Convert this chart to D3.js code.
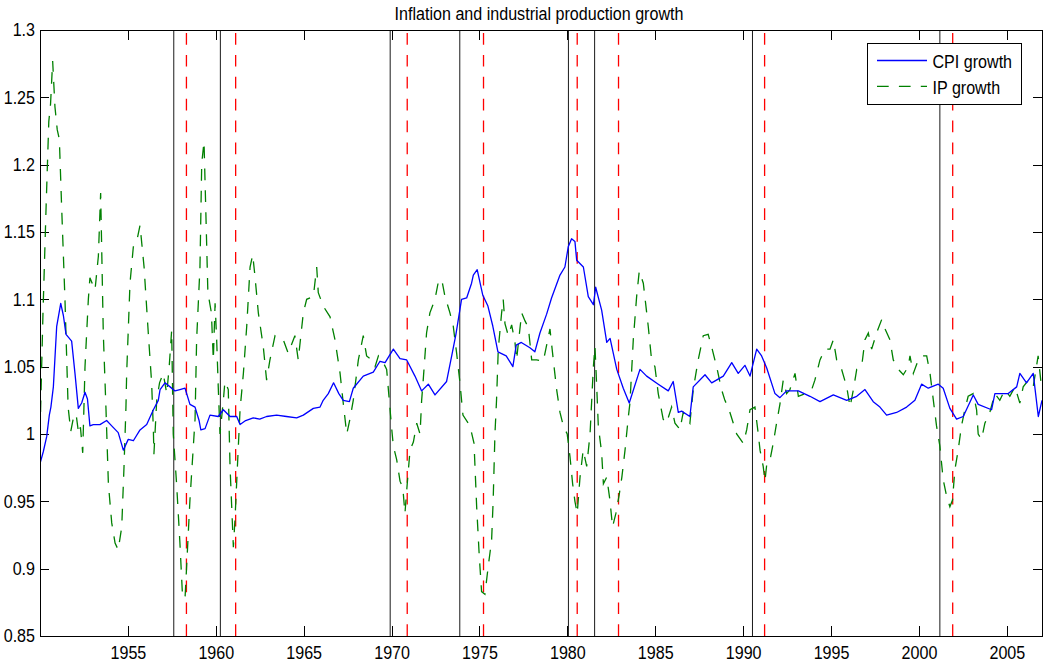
<script src='https://d3js.org/d3.v7.min.js'></script>
<style>
body {margin:0; background:#fff;}
text {font-family:'Liberation Sans',Arial,sans-serif; font-size:18.5px; fill:#000;}
.tick line {stroke:#000; shape-rendering:crispEdges;}
</style>
<body>
<svg id='chart'></svg>
<script>
// year-over-year ratios, [year, value]
var cpiGrowth=[[1950.0,0.978],[1950.19,0.987],[1950.38,0.998],[1950.53,1.014],[1950.62,1.020],[1950.76,1.035],[1950.95,1.080],[1951.18,1.097],
 [1951.33,1.088],[1951.48,1.074],[1951.80,1.069],[1951.99,1.045],[1952.18,1.019],[1952.37,1.023],[1952.56,1.031],[1952.70,1.026],[1952.84,1.006],
 [1953.03,1.007],[1953.41,1.007],[1953.79,1.010],[1954.08,1.006],[1954.45,1.001],[1954.74,0.988],[1955.02,0.996],[1955.31,0.995],[1955.69,1.003],
 [1956.07,1.007],[1956.45,1.018],[1956.73,1.025],[1956.83,1.033],[1957.11,1.038],[1957.40,1.035],[1957.68,1.032],[1957.96,1.033],[1958.25,1.034],
 [1958.53,1.022],[1958.82,1.020],[1959.05,1.010],[1959.15,1.003],[1959.39,1.004],[1959.67,1.014],[1960.14,1.013],[1960.43,1.018],[1960.81,1.013],
 [1961.19,1.013],[1961.38,1.007],[1961.70,1.010],[1962.13,1.012],[1962.50,1.011],[1962.89,1.013],[1963.46,1.014],[1964.02,1.013],[1964.60,1.012],
 [1964.98,1.014],[1965.55,1.019],[1965.93,1.020],[1966.11,1.025],[1966.40,1.030],[1966.70,1.038],[1967.00,1.030],[1967.25,1.025],[1967.60,1.024],
 [1967.82,1.034],[1968.39,1.043],[1968.96,1.046],[1969.34,1.054],[1969.63,1.053],[1970.10,1.063],[1970.48,1.056],[1970.86,1.055],[1971.33,1.043],
 [1971.71,1.032],[1972.09,1.037],[1972.47,1.029],[1973.13,1.039],[1973.42,1.058],[1973.66,1.074],[1973.98,1.100],[1974.27,1.101],[1974.55,1.112],
 [1974.65,1.118],[1974.87,1.122],[1975.19,1.103],[1975.48,1.095],[1975.76,1.080],[1976.05,1.061],[1976.52,1.058],[1976.90,1.050],[1977.09,1.066],
 [1977.38,1.068],[1977.87,1.064],[1978.15,1.061],[1978.44,1.075],[1978.82,1.089],[1979.10,1.101],[1979.58,1.118],[1979.86,1.124],[1980.05,1.139],
 [1980.24,1.145],[1980.43,1.143],[1980.53,1.129],[1980.91,1.124],[1981.19,1.102],[1981.48,1.096],[1981.61,1.109],[1981.95,1.092],[1982.24,1.068],
 [1982.43,1.071],[1982.81,1.048],[1983.18,1.034],[1983.52,1.023],[1984.13,1.048],[1984.51,1.043],[1985.17,1.037],[1985.74,1.032],[1986.02,1.039],
 [1986.31,1.016],[1986.50,1.017],[1986.97,1.013],[1987.16,1.035],[1987.83,1.044],[1988.21,1.038],[1988.87,1.043],[1989.35,1.053],[1989.72,1.045],
 [1990.10,1.051],[1990.39,1.043],[1990.77,1.063],[1991.05,1.058],[1991.34,1.049],[1991.81,1.030],[1992.09,1.027],[1992.47,1.032],[1993.14,1.032],
 [1993.80,1.028],[1994.37,1.024],[1995.13,1.029],[1995.89,1.025],[1996.46,1.028],[1996.93,1.033],[1997.40,1.024],[1997.78,1.020],[1998.16,1.014],
 [1998.73,1.016],[1999.30,1.020],[1999.77,1.025],[2000.15,1.037],[2000.53,1.034],[2001.10,1.037],[2001.38,1.034],[2001.76,1.019],[2002.14,1.011],
 [2002.52,1.013],[2003.09,1.029],[2003.37,1.022],[2004.13,1.018],[2004.32,1.030],[2005.08,1.030],[2005.56,1.035],[2005.74,1.045],[2006.12,1.038],
 [2006.50,1.045],[2006.79,1.013],[2007.00,1.025]];
var ipGrowth=[[1950.0,1.000],[1950.17,1.090],[1950.35,1.170],[1950.5,1.232],[1950.6,1.245],[1950.72,1.277],[1950.85,1.243],[1950.98,1.226],
 [1951.1,1.219],[1951.23,1.169],[1951.42,1.100],[1951.6,1.020],[1951.75,1.002],[1951.9,1.012],[1952.05,1.015],[1952.2,1.000],[1952.3,1.005],
 [1952.43,0.986],[1952.56,1.050],[1952.75,1.100],[1952.84,1.116],[1953.13,1.107],[1953.32,1.132],[1953.45,1.179],[1953.60,1.075],[1953.75,1.020],
 [1953.89,0.963],[1954.08,0.934],[1954.27,0.919],[1954.45,0.914],[1954.65,0.931],[1954.78,0.976],[1954.89,1.020],[1954.93,1.045],[1955.12,1.112],
 [1955.31,1.139],[1955.50,1.143],[1955.69,1.155],[1955.92,1.124],[1956.16,1.075],[1956.35,1.038],[1956.45,1.003],[1956.48,0.985],[1956.64,1.025],
 [1956.8,1.038],[1957.01,1.045],[1957.21,1.030],[1957.35,1.050],[1957.49,1.077],[1957.58,1.000],[1957.77,0.963],[1957.96,0.919],[1958.11,0.879],
 [1958.25,0.878],[1958.35,0.904],[1958.53,0.951],[1958.82,1.011],[1958.91,1.070],[1959.10,1.124],[1959.20,1.201],[1959.33,1.217],[1959.43,1.167],
 [1959.55,1.105],[1959.75,1.090],[1959.86,1.055],[1959.96,1.097],[1960.05,1.070],[1960.14,1.035],[1960.24,1.000],[1960.43,1.025],[1960.52,1.039],
 [1960.71,1.033],[1960.81,0.976],[1961.0,0.916],[1961.09,0.936],[1961.23,0.976],[1961.38,1.018],[1961.57,1.045],[1961.76,1.080],[1961.95,1.124],
 [1962.10,1.133],[1962.23,1.117],[1962.42,1.090],[1962.70,1.065],[1962.89,1.040],[1963.08,1.055],[1963.37,1.073],[1963.84,1.070],[1964.12,1.060],
 [1964.50,1.073],[1964.69,1.055],[1964.98,1.090],[1965.17,1.100],[1965.55,1.102],[1965.74,1.124],[1965.83,1.105],[1966.11,1.095],[1966.50,1.087],
 [1966.78,1.070],[1967.07,1.045],[1967.25,1.023],[1967.45,1.000],[1967.63,1.011],[1967.82,1.025],[1968.11,1.055],[1968.39,1.073],[1968.58,1.058],
 [1968.87,1.055],[1969.06,1.050],[1969.25,1.058],[1969.53,1.053],[1969.72,1.048],[1969.87,1.025],[1970.0,1.005],[1970.10,0.991],[1970.29,0.981],
 [1970.48,0.965],[1970.64,0.960],[1970.76,0.941],[1970.89,0.963],[1971.05,0.988],[1971.24,0.994],[1971.43,1.008],[1971.62,1.000],[1971.71,1.025],
 [1971.80,1.040],[1971.99,1.075],[1972.18,1.090],[1972.47,1.100],[1972.66,1.113],[1972.85,1.115],[1973.04,1.102],[1973.32,1.090],[1973.51,1.080],
 [1973.70,1.060],[1973.89,1.038],[1974.06,1.014],[1974.46,1.006],[1974.69,0.993],[1974.84,0.946],[1974.99,0.909],[1975.12,0.883],[1975.31,0.881],
 [1975.50,0.902],[1975.69,0.921],[1975.78,0.951],[1975.88,1.000],[1975.97,1.025],[1976.07,1.063],[1976.26,1.090],[1976.35,1.100],[1976.45,1.082],
 [1976.64,1.073],[1976.83,1.081],[1977.02,1.068],[1977.11,1.055],[1977.40,1.090],[1977.59,1.084],[1977.78,1.079],[1977.97,1.055],[1978.25,1.055],
 [1978.63,1.054],[1979.01,1.078],[1979.20,1.055],[1979.39,1.033],[1979.58,1.016],[1979.77,1.006],[1979.99,1.000],[1980.15,0.983],[1980.30,0.963],
 [1980.43,0.950],[1980.56,0.941],[1980.72,0.968],[1980.90,0.988],[1981.10,0.976],[1981.29,1.000],[1981.48,1.050],[1981.57,1.065],[1981.67,1.035],
 [1981.76,1.006],[1981.95,0.986],[1982.05,0.963],[1982.24,0.968],[1982.42,0.951],[1982.57,0.931],[1982.76,0.941],[1982.95,0.955],[1983.10,0.968],
 [1983.28,0.988],[1983.47,1.013],[1983.56,1.023],[1983.75,1.070],[1983.94,1.102],[1984.09,1.121],[1984.32,1.112],[1984.60,1.080],[1984.79,1.055],
 [1984.98,1.050],[1985.17,1.030],[1985.45,1.011],[1985.64,1.008],[1985.93,1.020],[1986.12,1.008],[1986.31,1.005],[1986.40,1.003],[1986.59,1.016],
 [1986.97,1.008],[1987.16,1.033],[1987.44,1.055],[1987.73,1.073],[1988.01,1.074],[1988.20,1.065],[1988.49,1.050],[1988.77,1.033],[1988.96,1.025],
 [1989.15,1.020],[1989.44,1.008],[1989.63,1.000],[1990.01,0.993],[1990.20,1.003],[1990.39,1.018],[1990.67,1.020],[1990.86,1.000],[1990.96,0.988],
 [1991.14,0.976],[1991.24,0.965],[1991.37,0.981],[1991.56,0.983],[1991.71,0.993],[1991.90,1.008],[1992.09,1.022],[1992.28,1.040],[1992.47,1.030],
 [1992.66,1.033],[1992.95,1.045],[1993.14,1.028],[1993.52,1.030],[1993.90,1.033],[1994.08,1.040],[1994.37,1.055],[1994.65,1.063],[1994.94,1.063],
 [1995.13,1.070],[1995.32,1.055],[1995.60,1.048],[1995.89,1.035],[1996.08,1.020],[1996.27,1.033],[1996.46,1.048],[1996.74,1.050],[1996.93,1.070],
 [1997.12,1.075],[1997.31,1.063],[1997.59,1.075],[1997.88,1.085],[1998.07,1.078],[1998.35,1.070],[1998.54,1.055],[1998.83,1.048],[1999.11,1.044],
 [1999.39,1.050],[1999.49,1.058],[1999.68,1.045],[1999.96,1.055],[2000.15,1.058],[2000.44,1.058],[2000.63,1.045],[2000.82,1.025],[2001.0,1.006],
 [2001.19,0.991],[2001.38,0.966],[2001.57,0.954],[2001.76,0.946],[2001.91,0.951],[2002.04,0.973],[2002.23,0.988],[2002.42,1.006],[2002.61,1.018],
 [2002.80,1.028],[2003.09,1.030],[2003.28,1.018],[2003.37,1.000],[2003.56,0.996],[2003.75,1.008],[2004.03,1.016],[2004.32,1.030],[2004.60,1.025],
 [2004.89,1.033],[2005.17,1.028],[2005.46,1.035],[2005.74,1.023],[2005.93,1.035],[2006.22,1.040],[2006.50,1.035],[2006.78,1.058],[2006.97,1.035]];
var peaks=[1957.61,1960.26,1969.92,1973.88,1980.06,1981.55,1990.53,2001.19];
var troughs=[1958.33,1961.13,1970.89,1975.23,1980.56,1982.91,1991.22,2001.92];
var xTicks=[1955,1960,1965,1970,1975,1980,1985,1990,1995,2000,2005];
var yTicks=[0.85,0.9,0.95,1,1.05,1.1,1.15,1.2,1.25,1.3];
var seriesNames=['CPI growth','IP growth'];
var title='Inflation and industrial production growth';

var W=1043,H=664,m={top:30,right:1,bottom:28,left:40};
var w=W-m.left-m.right,h=H-m.top-m.bottom,sx=0.87,dash='11.7,10.2';
var x=d3.scaleLinear().domain([1950,2007]).range([0,w]);
var y=d3.scaleLinear().domain([0.85,1.3]).range([h,0]);
var svg=d3.select('#chart').attr('width',W).attr('height',H)
          .append('g').attr('transform','translate('+m.left+','+m.top+')');
svg.append('defs').append('clipPath').attr('id','clip').append('rect').attr('width',w).attr('height',h);

svg.append('g').attr('transform','translate(0,'+h+')')
   .call(d3.axisBottom(x).tickValues(xTicks).tickSize(-10).tickFormat(d3.format('d')))
   .call(g=>g.selectAll('text').attr('y',23).attr('dy',0).attr('transform','scale('+sx+',1)'));
svg.append('g').call(d3.axisTop(x).tickValues(xTicks).tickSize(-10).tickFormat(''));
svg.append('g').call(d3.axisLeft(y).tickValues(yTicks).tickSize(-9).tickFormat(String))
   .call(g=>g.selectAll('text').attr('x',0).attr('transform','translate(-5,0) scale('+sx+',1)'));
svg.append('g').attr('transform','translate('+w+',0)')
   .call(d3.axisRight(y).tickValues(yTicks).tickSize(-9).tickFormat(''));
svg.selectAll('.domain').remove();
svg.selectAll('.tick text').style('font-size','18.5px').style('font-family',"'Liberation Sans',Arial,sans-serif").attr('fill','#000');

svg.selectAll('.peak').data(peaks).enter().append('line').attr('class','peak')
   .attr('x1',d=>x(d)).attr('x2',d=>x(d)).attr('y1',0).attr('y2',h)
   .attr('stroke','#1a1a1a').attr('stroke-width',1);
svg.selectAll('.trough').data(troughs).enter().append('line').attr('class','trough')
   .attr('x1',d=>x(d)).attr('x2',d=>x(d)).attr('y1',h).attr('y2',0)
   .attr('stroke','#ff0000').attr('stroke-width',1.3).attr('stroke-dasharray',dash);

var line=d3.line().x(d=>x(d[0])).y(d=>y(d[1]));
var plot=svg.append('g').attr('clip-path','url(#clip)');
plot.append('path').datum(ipGrowth).attr('d',line).attr('fill','none')
    .attr('stroke','#008000').attr('stroke-width',1.3).attr('stroke-dasharray',dash);
plot.append('path').datum(cpiGrowth).attr('d',line).attr('fill','none')
    .attr('stroke','#0000ff').attr('stroke-width',1.3).attr('stroke-linejoin','round');

svg.append('rect').attr('width',w).attr('height',h).attr('fill','none')
   .attr('stroke','#000').attr('stroke-width',1).attr('shape-rendering','crispEdges');

svg.append('text').attr('transform','translate('+(w/2-2)+',-10) scale('+sx+',1)')
   .attr('text-anchor','middle').text(title);

var lg=svg.append('g').attr('transform','translate(827,13)');
lg.append('rect').attr('width',154).attr('height',61).attr('fill','#fff')
  .attr('stroke','#000').attr('stroke-width',1).attr('shape-rendering','crispEdges');
var lgStyle=[{c:'#0000ff',d:null},{c:'#008000',d:dash}];
seriesNames.forEach(function(s,i){
  var yy=17.5+i*25.8;
  lg.append('line').attr('x1',10).attr('x2',60).attr('y1',yy).attr('y2',yy)
    .attr('stroke',lgStyle[i].c).attr('stroke-width',1.3).attr('stroke-dasharray',lgStyle[i].d);
  lg.append('text').attr('transform','translate(65.5,'+(yy+7.8)+') scale('+sx+',1)').text(s);
});
</script>
</body>
